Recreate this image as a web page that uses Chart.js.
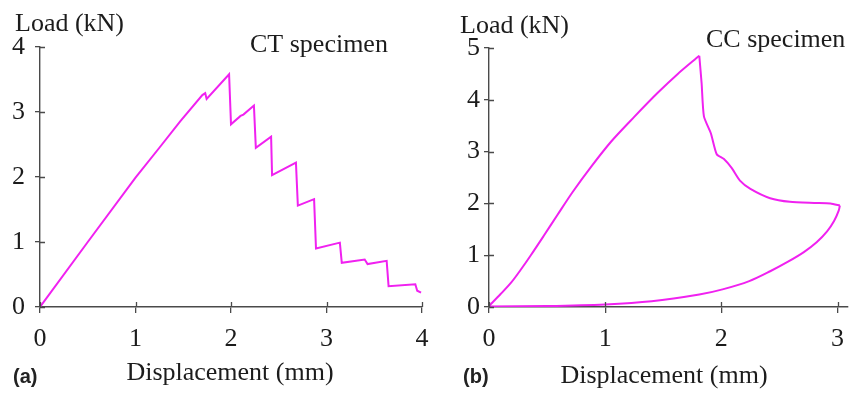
<!DOCTYPE html>
<html>
<head>
<meta charset="utf-8">
<script src="https://cdn.jsdelivr.net/npm/chart.js@4.4.1/dist/chart.umd.min.js"></script>
<style>
  html, body { margin: 0; padding: 0; background: #fff; }
  #wrap { position: relative; width: 851px; height: 396px; overflow: hidden; }
  #ctBox { position: absolute; left: 0; top: 0; width: 430px; height: 396px; }
  #ccBox { position: absolute; left: 430px; top: 0; width: 421px; height: 396px; }
</style>
</head>
<body>
<div id="wrap">
  <div id="ctBox"><canvas id="ctChart" width="430" height="396"></canvas></div>
  <div id="ccBox"><canvas id="ccChart" width="421" height="396"></canvas></div>
</div>
<script>
// CT specimen: load–displacement record (mm, kN)
const ctDisp = [0, 0.5, 1.0, 1.25, 1.47, 1.70, 1.73, 1.745, 1.98, 2.0, 2.1, 2.13, 2.24, 2.26, 2.42, 2.43, 2.68, 2.70, 2.87, 2.89, 3.14, 3.16, 3.40, 3.43, 3.63, 3.65, 3.93, 3.95, 3.99];
const ctLoad = [0, 1.0, 1.99, 2.45, 2.86, 3.26, 3.29, 3.2, 3.58, 2.81, 2.94, 2.96, 3.10, 2.45, 2.62, 2.03, 2.22, 1.56, 1.66, 0.90, 0.99, 0.68, 0.73, 0.66, 0.71, 0.32, 0.35, 0.25, 0.22];

// CC specimen, loading branch up to peak load (mm, kN)
const ccLoadingDisp = [0, 0.10, 0.19, 0.27, 0.36, 0.47, 0.59, 0.72, 0.88, 1.05, 1.25, 1.45, 1.62, 1.81];
const ccLoadingLoad = [0.02, 0.25, 0.47, 0.71, 1.0, 1.37, 1.78, 2.22, 2.71, 3.19, 3.67, 4.13, 4.49, 4.85];
// CC specimen, post-peak crack growth
const ccCrackDisp = [1.81, 1.83, 1.85, 1.91, 1.96, 2.02, 2.09, 2.16, 2.25, 2.42, 2.59, 2.80, 2.94, 3.02];
const ccCrackLoad = [4.85, 4.32, 3.68, 3.35, 2.95, 2.86, 2.68, 2.44, 2.28, 2.10, 2.03, 2.01, 2.00, 1.96];
// CC specimen, unloading branch
const ccUnloadDisp = [3.02, 3.01, 2.97, 2.91, 2.82, 2.71, 2.57, 2.42, 2.24, 2.01, 1.81, 1.40, 1.0, 0.5, 0];
const ccUnloadLoad = [1.96, 1.86, 1.66, 1.46, 1.25, 1.06, 0.87, 0.69, 0.50, 0.34, 0.24, 0.11, 0.05, 0.02, 0.01];

const ctTicksX = [0, 1, 2, 3, 4];
const ctTicksY = [0, 1, 2, 3, 4];
const ccTicksX = [0, 1, 2, 3];
const ccTicksY = [0, 1, 2, 3, 4, 5];

const AXIS = '#4a4a4a';
const INK = '#1c1c1c';
const CURVE = '#f021f0';
const SERIF = "'Liberation Serif', 'Times New Roman', serif";

// Short inner halves of the tick marks, so each tick crosses its axis
const innerTicks = {
  id: 'innerTicks',
  afterDatasetsDraw(chart) {
    const { ctx, chartArea, scales } = chart;
    ctx.save();
    ctx.strokeStyle = AXIS;
    ctx.lineWidth = 1.3;
    ctx.beginPath();
    scales.x.ticks.forEach(t => {
      const px = Math.round(scales.x.getPixelForValue(t.value)) + 0.5;
      ctx.moveTo(px, chartArea.bottom - 5);
      ctx.lineTo(px, chartArea.bottom);
    });
    scales.y.ticks.forEach(t => {
      const py = Math.round(scales.y.getPixelForValue(t.value)) + 0.5;
      ctx.moveTo(chartArea.left, py);
      ctx.lineTo(chartArea.left + 5, py);
    });
    ctx.stroke();
    ctx.restore();
  }
};

// Free-standing labels: axis captions, specimen name and panel letter
const captions = {
  id: 'captions',
  afterDraw(chart, args, opts) {
    const ctx = chart.ctx;
    ctx.save();
    ctx.textBaseline = 'alphabetic';
    (opts.items || []).forEach(it => {
      ctx.font = it.font;
      ctx.fillStyle = it.color || INK;
      ctx.textAlign = it.align || 'left';
      ctx.fillText(it.text, it.x, it.y);
    });
    ctx.restore();
  }
};

function tickValues(list) {
  return function(scale) {
    scale.ticks = list.map(v => ({ value: v }));
  };
}

function toPoints(xs, ys) {
  return xs.map((x, i) => ({ x: x, y: ys[i] }));
}

function curve(xs, ys, tension) {
  return {
    data: toPoints(xs, ys),
    showLine: true,
    borderColor: CURVE,
    borderWidth: 2,
    pointRadius: 0,
    tension: tension,
    fill: false
  };
}

function makeChart(id, datasets, cfg) {
  return new Chart(document.getElementById(id), {
    type: 'scatter',
    data: { datasets: datasets },
    options: {
      responsive: false,
      animation: false,
      devicePixelRatio: 1,
      layout: { padding: cfg.padding },
      plugins: {
        legend: { display: false },
        tooltip: { enabled: false },
        captions: { items: cfg.captions }
      },
      scales: {
        x: {
          type: 'linear',
          min: 0,
          max: cfg.xMax,
          afterBuildTicks: tickValues(cfg.ticksX),
          afterFit(scale) {
            scale.height = cfg.xHeight;
            scale.paddingLeft = 0;
            scale.paddingRight = 0;
          },
          border: { color: AXIS, width: 1.4 },
          grid: { drawOnChartArea: false, drawTicks: true, tickLength: 6, color: AXIS, lineWidth: 1.3 },
          ticks: { color: INK, padding: 11, font: { family: SERIF, size: 26 }, maxRotation: 0 }
        },
        y: {
          type: 'linear',
          min: 0,
          max: cfg.yMax,
          afterBuildTicks: tickValues(cfg.ticksY),
          afterFit(scale) {
            scale.width = cfg.yWidth;
            scale.paddingTop = 0;
            scale.paddingBottom = 0;
          },
          border: { color: AXIS, width: 1.4 },
          grid: { drawOnChartArea: false, drawTicks: true, tickLength: 5, color: AXIS, lineWidth: 1.3 },
          ticks: { color: INK, padding: cfg.yPad, font: { family: SERIF, size: 26 } }
        }
      }
    },
    plugins: [innerTicks, captions]
  });
}

makeChart('ctChart', [curve(ctDisp, ctLoad, 0)], {
  xMax: 4, yMax: 4, ticksX: ctTicksX, ticksY: ctTicksY,
  padding: { top: 47, right: 8, left: 0, bottom: 0 },
  xHeight: 89, yWidth: 40, yPad: 10,
  captions: [
    { text: 'Load (kN)', x: 15, y: 31, font: '26px ' + SERIF },
    { text: 'CT specimen', x: 250, y: 52, font: '26px ' + SERIF },
    { text: 'Displacement (mm)', x: 230, y: 380, align: 'center', font: '26px ' + SERIF },
    { text: '(a)', x: 13, y: 383, font: 'bold 20px "Liberation Sans", Arial, sans-serif', color: '#222' }
  ]
});

makeChart('ccChart', [
  curve(ccLoadingDisp, ccLoadingLoad, 0.3),
  curve(ccCrackDisp, ccCrackLoad, 0.2),
  curve(ccUnloadDisp, ccUnloadLoad, 0.3)
], {
  xMax: 3.09, yMax: 5, ticksX: ccTicksX, ticksY: ccTicksY,
  padding: { top: 48, right: 3, left: 0, bottom: 0 },
  xHeight: 89, yWidth: 59, yPad: 4,
  captions: [
    { text: 'Load (kN)', x: 30, y: 33, font: '26px ' + SERIF },
    { text: 'CC specimen', x: 276, y: 47, font: '26px ' + SERIF },
    { text: 'Displacement (mm)', x: 234, y: 383, align: 'center', font: '26px ' + SERIF },
    { text: '(b)', x: 33, y: 383, font: 'bold 20px "Liberation Sans", Arial, sans-serif', color: '#222' }
  ]
});
</script>
</body>
</html>
